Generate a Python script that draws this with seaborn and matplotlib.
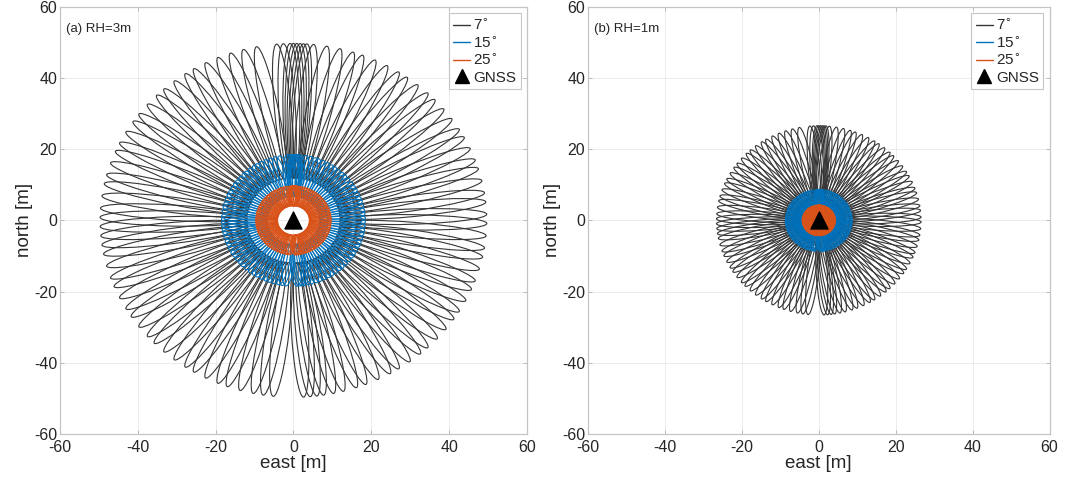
import numpy as np
import pandas as pd
import matplotlib
matplotlib.use("Agg")
import matplotlib.pyplot as plt
from matplotlib.patches import Ellipse
from matplotlib.lines import Line2D
import seaborn as sns

# Satellite azimuths (deg, clockwise from north) of the reflection-zone tracks
azimuths = [
    355, 357, 359, 0, 1, 2, 3, 4, 6,
    10, 14, 18, 21, 25, 29, 33, 36, 40, 44, 47, 51,
    55, 59, 62, 66, 70, 73, 77, 81, 84, 88, 91,
    95, 99, 102, 106, 110, 113, 117, 121, 124, 128,
    132, 136, 139, 143, 147, 150, 154, 158, 161, 165,
    168, 171, 173, 175, 177,
    186, 189, 192, 196, 200, 203, 207, 211, 214, 218,
    222, 226, 229, 233, 237, 240, 244, 248, 251, 255,
    259, 262, 265, 268, 271, 274, 278, 282, 285, 289,
    293, 296, 300, 304, 307, 311, 315, 318, 322, 326,
    329, 333, 337, 341, 345, 349,
]

elevations = ["7", "15", "25"]
colors = ["#353535", "#0072BD", "#D95319"]
layer = [2, 3, 4]

# First Fresnel zone geometry per elevation angle (metres):
# distance of ellipse centre from antenna, semi-major and semi-minor axes
rh3_center = [30.8, 12.6, 6.9]
rh3_semi_major = [18.9, 5.9, 2.8]
rh3_semi_minor = [2.15, 1.45, 1.1]

rh1_center = [14.5, 5.1, 2.63]
rh1_semi_major = [12.1, 3.6, 1.68]
rh1_semi_minor = [1.45, 0.9, 0.68]

panels = [
    ("(a) RH=3m", rh3_center, rh3_semi_major, rh3_semi_minor),
    ("(b) RH=1m", rh1_center, rh1_semi_major, rh1_semi_minor),
]

antenna = pd.DataFrame({"east": [0.0], "north": [0.0]})
ticks = [-60, -40, -20, 0, 20, 40, 60]

sns.set_theme(style="whitegrid")
plt.rcParams["font.family"] = ["Liberation Sans", "DejaVu Sans"]
plt.rcParams["axes.unicode_minus"] = False
plt.rcParams["text.color"] = "#262626"
plt.rcParams["axes.labelcolor"] = "#262626"

fig = plt.figure(figsize=(10.71, 4.86), dpi=100)
axes_pos = [
    [0.056, 0.107, 0.436, 0.879],
    [0.549, 0.107, 0.431, 0.879],
]

for pos, (title, centers, majors, minors) in zip(axes_pos, panels):
    ax = fig.add_axes(pos)
    for color, z, r, a, b in zip(colors, layer, centers, majors, minors):
        for az in azimuths:
            th = np.deg2rad(az)
            ax.add_patch(Ellipse(
                (r * np.sin(th), r * np.cos(th)),
                width=2 * a, height=2 * b, angle=90 - az,
                fill=False, edgecolor=color, linewidth=0.8, zorder=z,
            ))
    sns.scatterplot(
        data=antenna, x="east", y="north", ax=ax, marker="^",
        s=150, color="black", edgecolor="black", zorder=6, legend=False,
    )
    ax.set_xlim(-60, 60)
    ax.set_ylim(-60, 60)
    ax.set_xticks(ticks)
    ax.set_yticks(ticks)
    ax.tick_params(labelsize=11.5, direction="in", length=3, width=0.6,
                   top=True, right=True, bottom=True, left=True,
                   colors="#b0b0b0", labelcolor="#262626", pad=2)
    ax.tick_params(axis="x", pad=4.5)
    ax.grid(True, color="#ececec", linewidth=0.7)
    for sp in ax.spines.values():
        sp.set_color("#c4c4c4")
        sp.set_linewidth(0.9)
    ax.set_xlabel("east [m]", fontsize=13.5, labelpad=0)
    ax.set_ylabel("north [m]", fontsize=13.5, labelpad=1)
    ax.text(0.012, 0.935, title, transform=ax.transAxes, fontsize=9.5,
            ha="left", va="bottom")

    handles = [
        Line2D([], [], color=c, linewidth=1.0, label=f"{e}$^{{\\circ}}$")
        for c, e in zip(colors, elevations)
    ]
    handles.append(Line2D([], [], color="black", marker="^", linestyle="none",
                          markersize=10, label="GNSS"))
    leg = ax.legend(handles=handles, loc="upper right", fontsize=11,
                    frameon=True, fancybox=False, borderaxespad=0.4,
                    handlelength=1.1, handletextpad=0.2, labelspacing=0.15,
                    borderpad=0.3)
    leg.get_frame().set_edgecolor("#b8b8b8")
    leg.get_frame().set_linewidth(0.8)

fig.savefig("out.png", dpi=100)
